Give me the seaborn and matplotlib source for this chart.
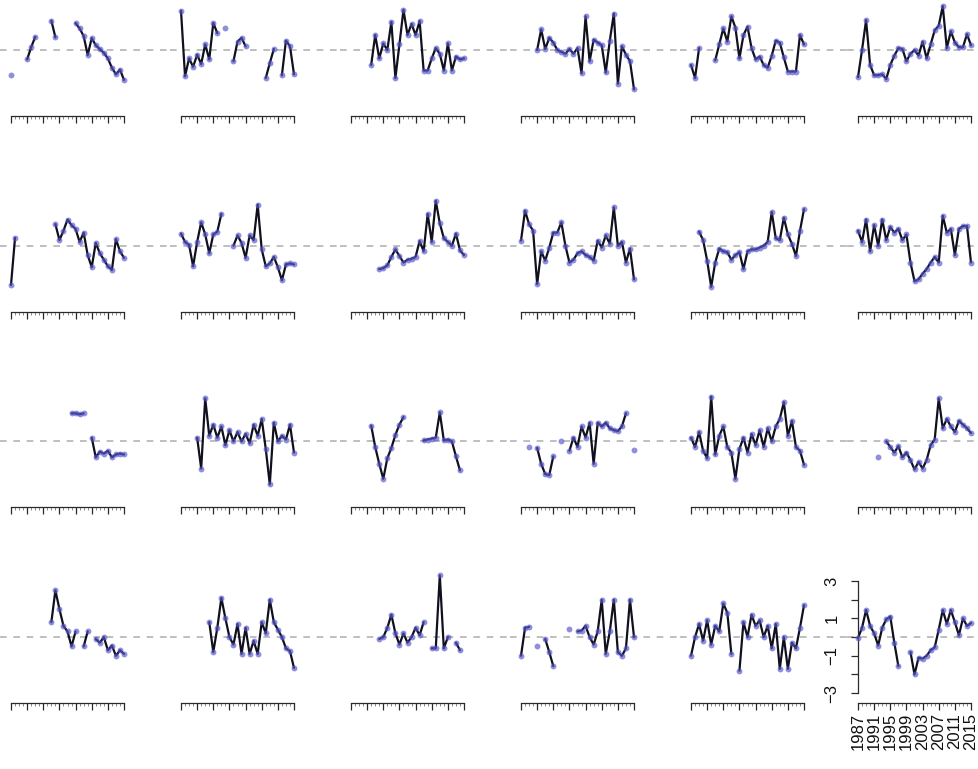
import numpy as np
import pandas as pd
import matplotlib
matplotlib.use("Agg")
import matplotlib.pyplot as plt
from matplotlib.ticker import FixedLocator
import seaborn as sns

NA = np.nan

# yearly time axis shared by every panel
years = list(range(1987, 2016))
year_labels = ["1987", "1991", "1995", "1999", "2003", "2007", "2011", "2015"]
label_years = [1987, 1991, 1995, 1999, 2003, 2007, 2011, 2015]
y_ticks = [-3, -2, -1, 0, 1, 2, 3]
y_labels = ["\u22123", "", "\u22121", "", "1", "", "3"]

# standardised annual series, one list per panel (NA = no observation)
s01 = [-1.34, NA, NA, NA, -0.5, 0.15, 0.7, NA, NA, NA, 1.57, 0.68, NA, NA, NA, NA,
       1.44, 1.15, 0.75, -0.27, 0.64, 0.25, 0.05, -0.15, -0.45, -0.95, -1.3, -1.05, -1.6]
s02 = [2.1, -1.4, -0.45, -0.9, -0.25, -0.75, 0.3, -0.5, 1.45, 0.9, NA, 1.2, NA, -0.6, 0.45,
       0.65, 0.2, NA, NA, NA, NA, -1.5, -0.7, 0.05, NA, -1.35, 0.5, 0.2, -1.3]
s03 = [NA, NA, NA, NA, NA, -0.8, 0.8, -0.45, 0.35, 0.0, 1.5, -1.5, 0.3, 2.15, 0.8,
       1.4, 0.8, 1.55, -1.1, -1.1, -0.45, 0.1, -0.2, -1.1, 0.35, -1.1, -0.35, -0.5, -0.45]
s04 = [NA, NA, NA, NA, 0.0, 1.1, 0.05, 0.65, 0.4, 0.0, -0.1, -0.2, 0.05, -0.2, 0.1,
       -1.25, 1.8, -0.6, 0.55, 0.4, 0.25, -1.2, 0.5, 1.95, -1.8, 0.2, -0.25, -0.6, -2.1]
s05 = [-0.8, -1.5, 0.1, NA, NA, NA, -0.55, 0.3, 1.15, 0.45, 1.8, 1.2, -0.45, 0.8, 1.25,
       0.1, -0.5, -0.35, -0.8, -0.95, -0.3, 0.5, 0.4, -0.4, -1.15, -1.15, -1.15, 0.8, 0.3]
s06 = [-1.45, 0.0, 1.6, -0.8, -1.35, -1.35, -1.3, -1.55, -0.8, -0.3, 0.1, 0.05, -0.6, -0.2, 0.0,
       -0.3, 0.45, -0.45, 0.3, 1.05, 1.3, 2.35, 0.1, 1.0, 0.4, 0.15, 0.15, 0.85, 0.25]
s07 = [-2.1, 0.42, NA, NA, NA, NA, NA, NA, NA, NA, NA, 1.15, 0.3, 0.8, 1.4,
       1.1, 0.9, 0.2, 0.7, -0.5, -1.15, 0.15, -0.4, -0.75, -1.1, -1.3, 0.35, -0.3, -0.65]
s08 = [0.65, 0.2, 0.05, -1.1, 0.2, 1.25, 0.6, -0.4, 0.6, 0.75, 1.7, NA, NA, 0.0, 0.55,
       0.15, -0.65, 0.55, 0.3, 2.2, -0.2, -1.1, -0.95, -0.6, -1.15, -1.85, -1.0, -0.95, -1.0]
s09 = [NA, NA, NA, NA, NA, NA, NA, -1.25, -1.2, -1.05, -0.6, -0.2, -0.55, -0.9, -0.75,
       -0.7, -0.6, 0.25, -0.3, 1.7, 0.2, 2.4, 1.2, 0.4, 0.2, 0.0, 0.65, -0.25, -0.5]
s10 = [0.27, 1.87, 1.15, 0.8, -2.05, -0.3, -0.8, -0.1, 0.7, 0.7, 1.25, 0.0, -0.9, -0.75, -0.4,
       -0.3, -0.5, -0.6, -0.8, 0.27, -0.1, 0.55, 0.1, 2.05, 0.0, 0.2, -0.9, -0.15, -1.8]
s11 = [NA, NA, 0.75, 0.3, -0.8, -2.2, -0.9, -0.15, -0.3, -0.35, -0.75, -0.5, -0.35, -1.25, -0.3,
       -0.2, -0.2, -0.1, 0.0, 0.2, 1.8, 0.4, 0.3, 1.5, 0.6, 0.1, -0.55, 0.8, 1.95]
s12 = [0.8, 0.2, 1.4, -0.3, 1.1, 0.0, 1.4, 0.3, 1.0, 0.7, 0.9, 0.3, 0.6, -0.9, -1.9,
       -1.8, -1.5, -1.25, -0.9, -0.6, -0.9, 1.6, 0.7, 0.9, -0.5, 0.9, 1.05, 1.05, -0.9]
s13 = [NA, NA, NA, NA, NA, NA, NA, NA, NA, NA, NA, NA, NA, NA, NA,
       1.5, 1.5, 1.45, 1.5, NA, 0.2, -0.85, -0.55, -0.65, -0.5, -0.85, -0.7, -0.65, -0.7]
s14 = [NA, NA, NA, NA, 0.2, -1.45, 2.3, 0.3, 0.9, 0.2, 0.8, -0.2, 0.6, 0.0, 0.5,
       0.0, 0.4, -0.1, 0.9, 0.3, 1.2, -0.4, -2.3, 1.0, 0.0, 0.3, 0.1, 0.9, -0.6]
s15 = [NA, NA, NA, NA, NA, 0.85, -0.3, -1.2, -2.0, -0.9, -0.35, 0.35, 0.9, 1.3, NA,
       NA, NA, NA, 0.05, 0.1, 0.15, 0.2, 1.55, 0.05, 0.1, 0.0, -0.8, -1.55, NA]
s16 = [NA, NA, -0.3, NA, -0.35, -1.2, -1.75, -1.8, -0.8, NA, 0.0, NA, -0.5, 0.2, -0.3,
       0.8, 0.2, 1.0, -1.2, 1.0, 0.8, 1.0, 0.7, 0.6, 0.55, 0.8, 1.5, NA, -0.45]
s17 = [0.2, -0.3, 0.5, -0.5, -0.9, 2.4, -0.7, 0.3, 0.8, -0.3, -0.6, -2.0, -0.4, 0.2, -0.6,
       0.4, -0.2, 0.6, -0.3, 0.7, 0.0, 0.8, 1.2, 2.1, 0.3, 1.1, -0.3, -0.5, -1.25]
s18 = [NA, NA, NA, NA, NA, -0.85, NA, 0.0, -0.3, -0.6, -0.25, -0.85, -0.6, -1.0, -1.5,
       -1.1, -1.45, -1.0, -0.2, 0.1, 2.3, 0.7, 1.2, 0.8, 0.5, 1.1, 0.9, 0.7, 0.45]
s19 = [NA, NA, NA, NA, NA, NA, NA, NA, NA, NA, 0.8, 2.5, 1.5, 0.6, 0.3,
       -0.5, 0.3, NA, -0.5, 0.3, NA, -0.1, -0.3, 0.0, -0.7, -0.45, -1.0, -0.7, -0.9]
s20 = [NA, NA, NA, NA, NA, NA, NA, 0.8, -0.8, 0.5, 2.1, 1.0, 0.0, -0.4, 0.7,
       -0.9, 0.5, -0.9, -0.2, -0.9, 0.8, 0.2, 2.0, 0.8, 0.4, 0.0, -0.6, -0.75, -1.65]
s21 = [NA, NA, NA, NA, NA, NA, NA, -0.1, 0.0, 0.5, 1.2, 0.2, -0.4, 0.2, -0.3,
       0.0, 0.5, 0.1, 0.8, NA, -0.6, -0.6, 3.3, -0.6, 0.0, NA, -0.3, -0.7, NA]
s22 = [-1.0, 0.5, 0.55, NA, -0.45, NA, -0.1, -0.8, -1.55, NA, NA, NA, 0.45, NA, 0.3,
       0.35, 0.6, 0.0, -0.4, 0.3, 2.0, -0.9, 0.3, 2.0, -0.8, -1.0, -0.6, 2.0, 0.0]
s23 = [-1.0, 0.0, 0.7, -0.2, 0.9, -0.4, 0.6, 0.3, 1.8, 1.3, -0.9, NA, -1.8, 0.8, 0.0,
       1.2, 0.6, 0.9, 0.0, 0.6, -0.6, 0.7, -1.7, 0.0, -1.7, -0.3, -0.6, 0.5, 1.7]
s24 = [-0.05, 0.5, 1.45, 0.6, 0.2, -0.45, 0.5, 0.95, 1.1, -0.3, -1.55, NA, NA, -0.8, -2.0,
       -1.1, -1.15, -1.0, -0.7, -0.55, 0.4, 1.45, 0.7, 1.45, 0.8, 0.1, 1.0, 0.6, 0.75]

series = [s01, s02, s03, s04, s05, s06, s07, s08, s09, s10, s11, s12,
          s13, s14, s15, s16, s17, s18, s19, s20, s21, s22, s23, s24]

sns.set_theme(style="white")
plt.rcParams["font.family"] = ["Liberation Sans", "DejaVu Sans"]

W, H = 979, 769
fig = plt.figure(figsize=(W / 100, H / 100), dpi=100)

LINE = "#10101e"
DOT = "#5454cc"
AXIS = "#2a2a2a"

# panel geometry in pixels
COL_W = 170          # width of one column
X_OFF = 11           # offset of 1987 from the column's left edge
PX_YEAR = 4.036      # pixels per year
ZERO_TOP = 50        # zero line of the first row
ROW_PITCH = 195.7
PX_UNIT = 18.7       # pixels per unit of the series
HALF_H = 66          # distance from zero line to the x axis
LAST_COL_SHIFT = 3   # nudge the rightmost column so its last year label fits

xmin = 1987 - X_OFF / PX_YEAR
xmax = xmin + COL_W / PX_YEAR
ymax = HALF_H / PX_UNIT

n = len(series)
for k, vals in enumerate(series):
    r, c = divmod(k, 6)
    y0 = ZERO_TOP + r * ROW_PITCH
    left = c * COL_W - (LAST_COL_SHIFT if c == 5 else 0)
    ax = fig.add_axes([left / W, 1 - (y0 + HALF_H) / H,
                       COL_W / W, 2 * HALF_H / H])
    ax.patch.set_alpha(0)
    ax.set_xlim(xmin, xmax)
    ax.set_ylim(-ymax, ymax)

    ax.axhline(0, color="#b4b4b4", lw=1.2, ls=(0, (4, 4)), zorder=0)

    df = pd.DataFrame({"year": years, "value": vals})
    df["seg"] = df["value"].isna().cumsum()
    df = df.dropna()
    sns.lineplot(data=df, x="year", y="value", units="seg", estimator=None,
                 sort=False, color=LINE, lw=1.6, ax=ax, legend=False, zorder=2)
    sns.scatterplot(data=df, x="year", y="value", color=DOT, s=18, linewidth=0,
                    alpha=0.65, ax=ax, legend=False, zorder=3)

    for side in ("top", "right", "left"):
        ax.spines[side].set_visible(False)
    ax.spines["bottom"].set_bounds(1987, 2015)
    ax.spines["bottom"].set_color(AXIS)
    ax.spines["bottom"].set_linewidth(0.9)
    ax.xaxis.set_major_locator(FixedLocator(label_years))
    ax.xaxis.set_minor_locator(FixedLocator(years))
    ax.tick_params(axis="x", which="major", bottom=True, length=5, width=0.9,
                   color=AXIS, labelsize=12, pad=2)
    ax.tick_params(axis="x", which="minor", bottom=True, length=2.5, width=0.6,
                   color="#777777")
    ax.set_xlabel("")
    ax.set_ylabel("")

    if k == n - 1:
        ax.set_xticklabels(year_labels, rotation=90, color="#111111")
        ax.spines["left"].set_visible(True)
        ax.spines["left"].set_position(("data", 1986.9))
        ax.spines["left"].set_bounds(-3, 3)
        ax.spines["left"].set_color(AXIS)
        ax.spines["left"].set_linewidth(0.9)
        ax.set_yticks(y_ticks)
        ax.set_yticklabels(y_labels, rotation=90, va="center", color="#111111")
        ax.tick_params(axis="y", left=True, length=5, width=0.9, color=AXIS,
                       labelsize=12, pad=8)
    else:
        ax.set_xticklabels([])
        ax.set_yticks([])

fig.savefig("out.png", dpi=100)
